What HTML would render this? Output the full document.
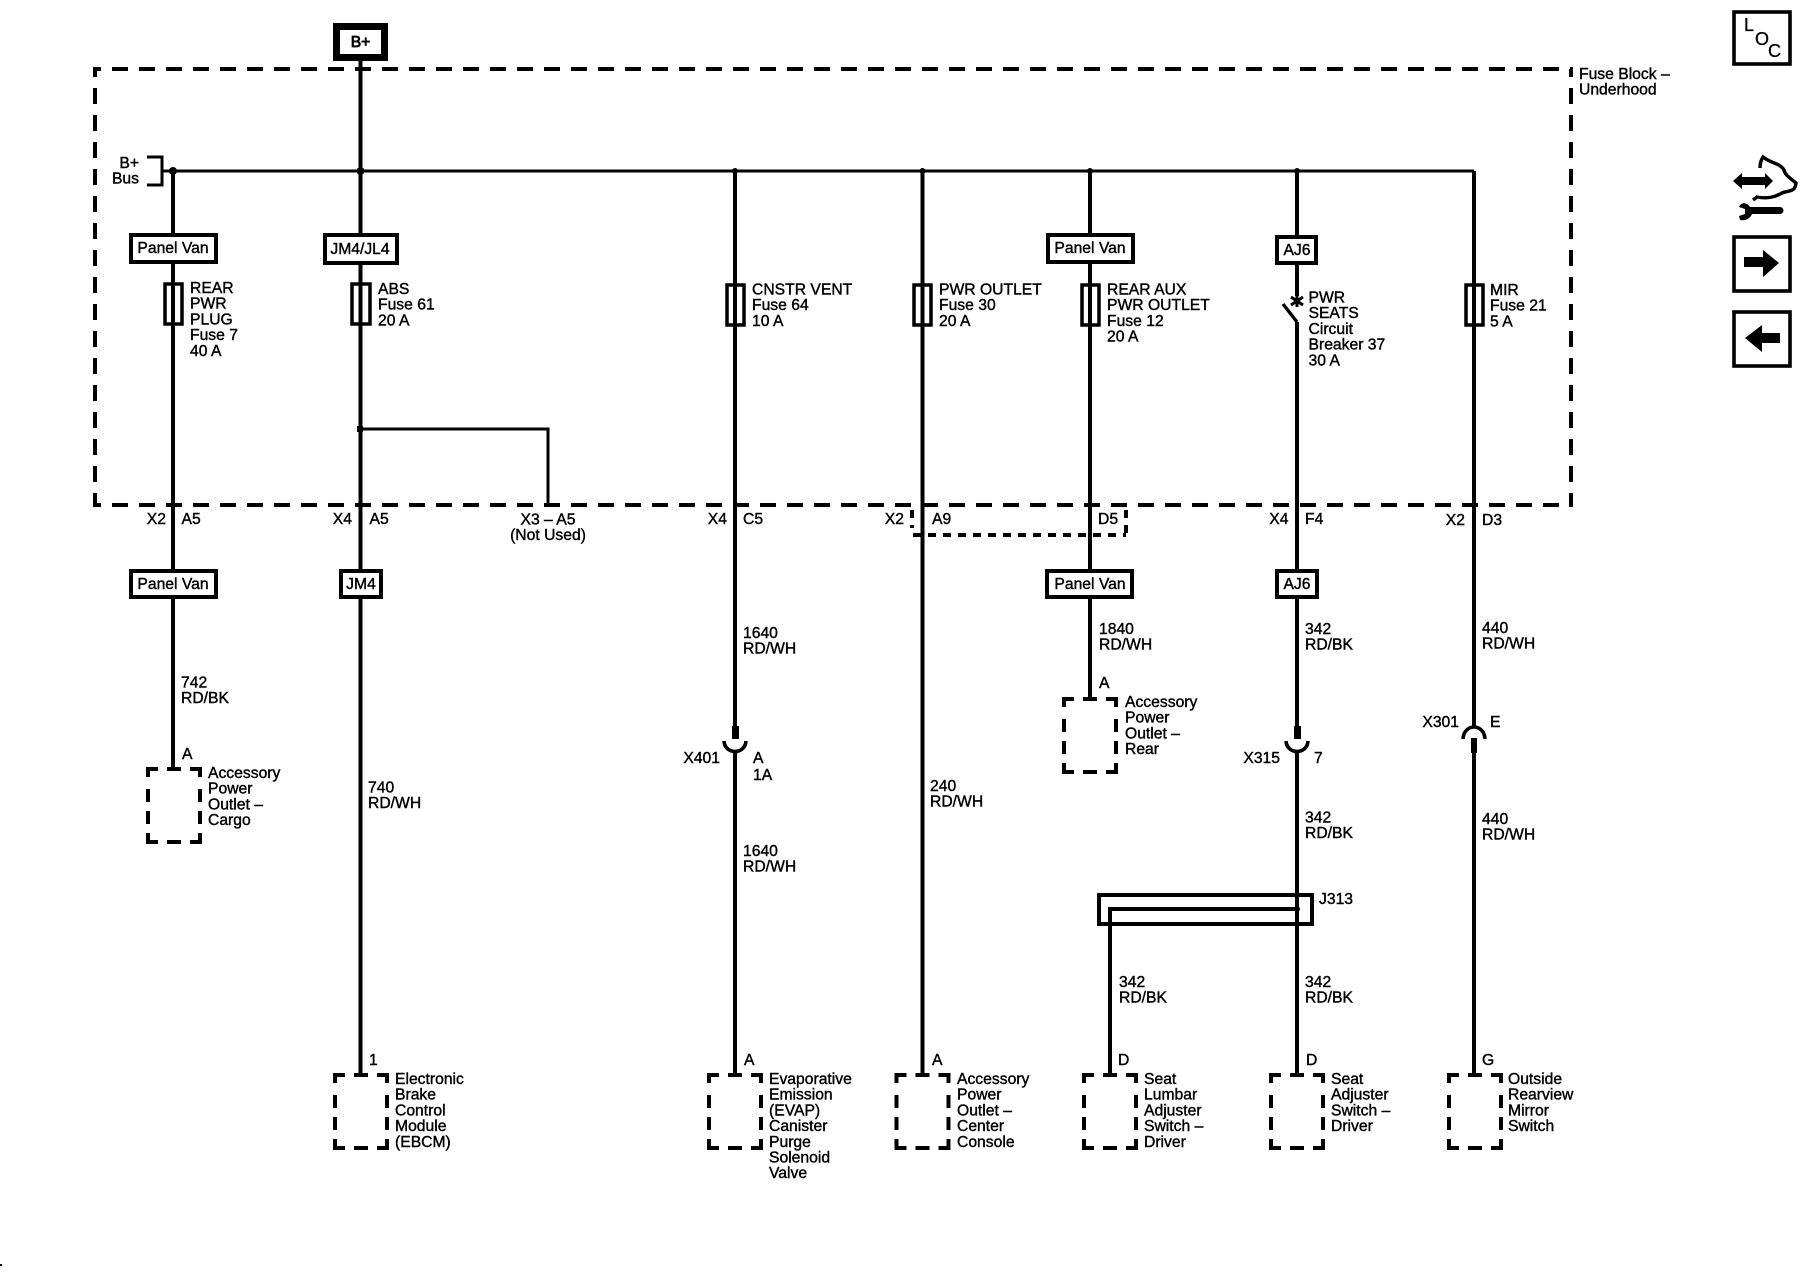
<!DOCTYPE html>
<html><head><meta charset="utf-8"><title>Wiring diagram</title>
<style>
html,body{margin:0;padding:0;background:#fff}
svg{display:block}
text{font-family:"Liberation Sans",sans-serif;font-size:15.7px;fill:#000;stroke:#000;stroke-width:.4}
.m{text-anchor:middle}.e{text-anchor:end}
</style></head><body>
<svg xmlns="http://www.w3.org/2000/svg" width="1800" height="1280" viewBox="0 0 1800 1280">
<rect width="1800" height="1280" fill="#fff"/>
<defs>
<path id="cb" d="M10 0H0V8M0 20V33M0 42V55M0 64V73H10M19 0H33M42 0H52V8M52 20V33M52 42V55M52 64V73H42M19 73H33" fill="none" stroke="#000" stroke-width="4"/>
</defs>
<!-- dashed fuse block -->
<g fill="none" stroke="#000" stroke-width="4" stroke-dasharray="16 11">
<line x1="93" y1="69" x2="1573" y2="69" stroke-dashoffset="8"/>
<line x1="95" y1="69" x2="95" y2="507" stroke-dashoffset="8"/>
<line x1="93" y1="505" x2="1573" y2="505" stroke-dashoffset="8"/>
<line x1="1571" y1="69" x2="1571" y2="507" stroke-dashoffset="8"/>
</g>
<path d="M912 510V528M913 535H1126M1126 510V535" fill="none" stroke="#000" stroke-width="4" stroke-dasharray="8 7"/>
<!-- wires -->
<g fill="none" stroke="#000" stroke-width="4">
<path d="M162 171H1474" stroke-width="3"/>
<path d="M1474 171V727M1474 753V1075"/>
<path d="M173 171V769"/>
<path d="M360.500 61V1075"/>
<path d="M735 171V726M735 750V1075"/>
<path d="M922.500 171V1075"/>
<path d="M1090 171V699"/>
<path d="M1297 171V296M1297 322V726M1297 750V1075"/>
<path d="M1283 304L1297 322" stroke-width="3.4"/>
<path d="M360 429H548V505" stroke-width="3"/>
<path d="M1110 1075V909H1297" />
<path d="M147 157H162V185H147" stroke-width="3"/>
<rect x="1099" y="895" width="213" height="29" />
<path d="M724 741C725 755 745 755 746 741M1286 741C1287 755 1307 755 1308 741" stroke-width="3.6"/>
<path d="M1463 739C1464 723 1484 723 1485 739" stroke-width="3.6"/>
<path d="M1291 297L1303 305M1291 305L1303 297M1297 295V307" stroke-width="3"/>
</g>
<rect x="732" y="726" width="7" height="13"/><rect x="1294" y="726" width="7" height="13"/><rect x="1471" y="738" width="6" height="15"/>
<circle cx="173" cy="171" r="4"/><circle cx="360.500" cy="171" r="4"/><circle cx="735" cy="171" r="3"/><circle cx="922.500" cy="171" r="3"/><circle cx="1090" cy="171" r="3"/><circle cx="1297" cy="171" r="3"/><rect x="357" y="426" width="6" height="6"/><circle cx="1297" cy="909" r="3"/>
<!-- fuses -->
<g fill="#fff" stroke="#000" stroke-width="3.5">
<rect x="165" y="284" width="17" height="40"/><rect x="352" y="284" width="18" height="40"/><rect x="727" y="285" width="17" height="40"/><rect x="914" y="285" width="17" height="40"/><rect x="1082" y="285" width="17" height="40"/><rect x="1466" y="285" width="17" height="40"/>
</g>
<path d="M173 284V324M360.500 284V324M735 285V325M922.500 285V325M1090 285V325M1474 285V325" stroke="#000" stroke-width="4"/>
<!-- option boxes -->
<g fill="#fff" stroke="#000" stroke-width="4">
<rect x="131" y="235" width="85" height="27"/><rect x="325" y="235" width="72" height="28"/><rect x="1048" y="235" width="85" height="27"/><rect x="1277" y="237" width="39" height="26"/>
<rect x="131" y="571" width="85" height="26"/><rect x="341" y="571" width="40" height="26"/><rect x="1047" y="571" width="85" height="26"/><rect x="1277" y="571" width="40" height="26"/>
</g>
<rect x="336.500" y="26.500" width="48" height="31" fill="#fff" stroke="#000" stroke-width="7"/>
<!-- component boxes -->
<use href="#cb" x="148" y="769"/><use href="#cb" x="1064" y="699"/><use href="#cb" x="335" y="1075"/><use href="#cb" x="709" y="1075"/><use href="#cb" x="896.500" y="1075"/><use href="#cb" x="1084" y="1075"/><use href="#cb" x="1271" y="1075"/><use href="#cb" x="1449" y="1075"/>
<!-- text -->
<text x="360.500" y="47" class="m" style="stroke-width:.8">B+</text>
<text x="1579" y="79">Fuse Block –<tspan x="1579" dy="15.700">Underhood</tspan></text>
<text x="139" y="168" class="e">B+<tspan x="139" dy="15.700">Bus</tspan></text>
<text x="173" y="253" class="m">Panel Van</text><text x="360" y="254" class="m">JM4/JL4</text><text x="1090" y="253" class="m">Panel Van</text><text x="1297" y="255" class="m">AJ6</text>
<text x="173" y="589" class="m">Panel Van</text><text x="361" y="589" class="m">JM4</text><text x="1090" y="589" class="m">Panel Van</text><text x="1297" y="589" class="m">AJ6</text>
<text x="190" y="293">REAR<tspan x="190" dy="15.700">PWR</tspan><tspan x="190" dy="15.700">PLUG</tspan><tspan x="190" dy="15.700">Fuse 7</tspan><tspan x="190" dy="15.700">40 A</tspan></text>
<text x="378" y="294">ABS<tspan x="378" dy="15.700">Fuse 61</tspan><tspan x="378" dy="15.700">20 A</tspan></text>
<text x="752" y="294.500">CNSTR VENT<tspan x="752" dy="15.700">Fuse 64</tspan><tspan x="752" dy="15.700">10 A</tspan></text>
<text x="939" y="294.500">PWR OUTLET<tspan x="939" dy="15.700">Fuse 30</tspan><tspan x="939" dy="15.700">20 A</tspan></text>
<text x="1107" y="294.500">REAR AUX<tspan x="1107" dy="15.700">PWR OUTLET</tspan><tspan x="1107" dy="15.700">Fuse 12</tspan><tspan x="1107" dy="15.700">20 A</tspan></text>
<text x="1308.500" y="302.500">PWR<tspan x="1308.500" dy="15.700">SEATS</tspan><tspan x="1308.500" dy="15.700">Circuit</tspan><tspan x="1308.500" dy="15.700">Breaker 37</tspan><tspan x="1308.500" dy="15.700">30 A</tspan></text>
<text x="1490" y="295">MIR<tspan x="1490" dy="15.700">Fuse 21</tspan><tspan x="1490" dy="15.700">5 A</tspan></text>
<text x="166" y="524" class="e">X2</text><text x="181.500" y="524">A5</text>
<text x="352" y="524" class="e">X4</text><text x="369.500" y="524">A5</text>
<text x="548" y="524.500" class="m">X3 – A5<tspan x="548" dy="15.700">(Not Used)</tspan></text>
<text x="727" y="524" class="e">X4</text><text x="743" y="524">C5</text>
<text x="904" y="524" class="e">X2</text><text x="932" y="524">A9</text>
<text x="1098" y="524">D5</text>
<text x="1288.500" y="524" class="e">X4</text><text x="1305" y="524">F4</text>
<text x="1465" y="525" class="e">X2</text><text x="1482" y="525">D3</text>
<text x="181" y="687.500">742<tspan x="181" dy="15.700">RD/BK</tspan></text>
<text x="182" y="759">A</text>
<text x="208" y="778">Accessory<tspan x="208" dy="15.700">Power</tspan><tspan x="208" dy="15.700">Outlet –</tspan><tspan x="208" dy="15.700">Cargo</tspan></text>
<text x="368" y="792.500">740<tspan x="368" dy="15.700">RD/WH</tspan></text>
<text x="743" y="638">1640<tspan x="743" dy="15.700">RD/WH</tspan></text>
<text x="720" y="763" class="e">X401</text><text x="753" y="763">A<tspan x="753" dy="17">1A</tspan></text>
<text x="743" y="856">1640<tspan x="743" dy="15.700">RD/WH</tspan></text>
<text x="930" y="791">240<tspan x="930" dy="15.700">RD/WH</tspan></text>
<text x="1099" y="634">1840<tspan x="1099" dy="15.700">RD/WH</tspan></text>
<text x="1099" y="688">A</text>
<text x="1125" y="707">Accessory<tspan x="1125" dy="15.700">Power</tspan><tspan x="1125" dy="15.700">Outlet –</tspan><tspan x="1125" dy="15.700">Rear</tspan></text>
<text x="1305" y="634">342<tspan x="1305" dy="15.700">RD/BK</tspan></text>
<text x="1280" y="763" class="e">X315</text><text x="1314" y="763">7</text>
<text x="1305" y="822.500">342<tspan x="1305" dy="15.700">RD/BK</tspan></text>
<text x="1319" y="904">J313</text>
<text x="1119" y="987">342<tspan x="1119" dy="15.700">RD/BK</tspan></text>
<text x="1305" y="987">342<tspan x="1305" dy="15.700">RD/BK</tspan></text>
<text x="1482" y="633">440<tspan x="1482" dy="15.700">RD/WH</tspan></text>
<text x="1459" y="727" class="e">X301</text><text x="1490" y="727">E</text>
<text x="1482" y="824">440<tspan x="1482" dy="15.700">RD/WH</tspan></text>
<text x="369" y="1065">1</text><text x="744" y="1065">A</text><text x="932" y="1065">A</text><text x="1118" y="1065">D</text><text x="1306" y="1065">D</text><text x="1482" y="1065">G</text>
<text x="395" y="1084">Electronic<tspan x="395" dy="15.700">Brake</tspan><tspan x="395" dy="15.700">Control</tspan><tspan x="395" dy="15.700">Module</tspan><tspan x="395" dy="15.700">(EBCM)</tspan></text>
<text x="769" y="1084">Evaporative<tspan x="769" dy="15.700">Emission</tspan><tspan x="769" dy="15.700">(EVAP)</tspan><tspan x="769" dy="15.700">Canister</tspan><tspan x="769" dy="15.700">Purge</tspan><tspan x="769" dy="15.700">Solenoid</tspan><tspan x="769" dy="15.700">Valve</tspan></text>
<text x="957" y="1084">Accessory<tspan x="957" dy="15.700">Power</tspan><tspan x="957" dy="15.700">Outlet –</tspan><tspan x="957" dy="15.700">Center</tspan><tspan x="957" dy="15.700">Console</tspan></text>
<text x="1144" y="1084">Seat<tspan x="1144" dy="15.700">Lumbar</tspan><tspan x="1144" dy="15.700">Adjuster</tspan><tspan x="1144" dy="15.700">Switch –</tspan><tspan x="1144" dy="15.700">Driver</tspan></text>
<text x="1331" y="1084">Seat<tspan x="1331" dy="15.700">Adjuster</tspan><tspan x="1331" dy="15.700">Switch –</tspan><tspan x="1331" dy="15.700">Driver</tspan></text>
<text x="1508" y="1084">Outside<tspan x="1508" dy="15.700">Rearview</tspan><tspan x="1508" dy="15.700">Mirror</tspan><tspan x="1508" dy="15.700">Switch</tspan></text>
<!-- right-hand icons -->
<g fill="none" stroke="#000" stroke-width="3.6">
<rect x="1734" y="12" width="56" height="52"/><rect x="1734" y="237" width="56" height="54"/><rect x="1734" y="312" width="56" height="54"/>
<path d="M1753 200L1757 197C1768 199 1775 197 1782 193C1788 190 1795 193 1796 183C1790 178 1785 175 1784 170C1780 163 1772 164 1763 157C1761 160 1760 164 1760 168" stroke-width="3.4"/>
</g>
<text x="1744" y="31" style="font-size:18px;stroke-width:.3">L</text><text x="1755" y="45" style="font-size:18px;stroke-width:.3">O</text><text x="1768" y="57" style="font-size:18px;stroke-width:.3">C</text>
<path d="M1733 181L1742 173V177H1765V173L1773 181L1765 189V185H1742V189Z"/>
<path d="M1750 207H1780A3.500 3.500 0 0 1 1780 214H1752C1750 219 1745 221 1740 220L1739 216L1745 214L1745 209L1739 207C1741 202 1747 202 1750 207Z"/>
<path d="M1744 257H1763V250L1779 263L1763 277V267H1744Z"/>
<path d="M1745 338L1762 325V333H1780V343H1762V352Z"/>
<rect x="0" y="1264" width="2" height="2"/>
</svg>
</body></html>
